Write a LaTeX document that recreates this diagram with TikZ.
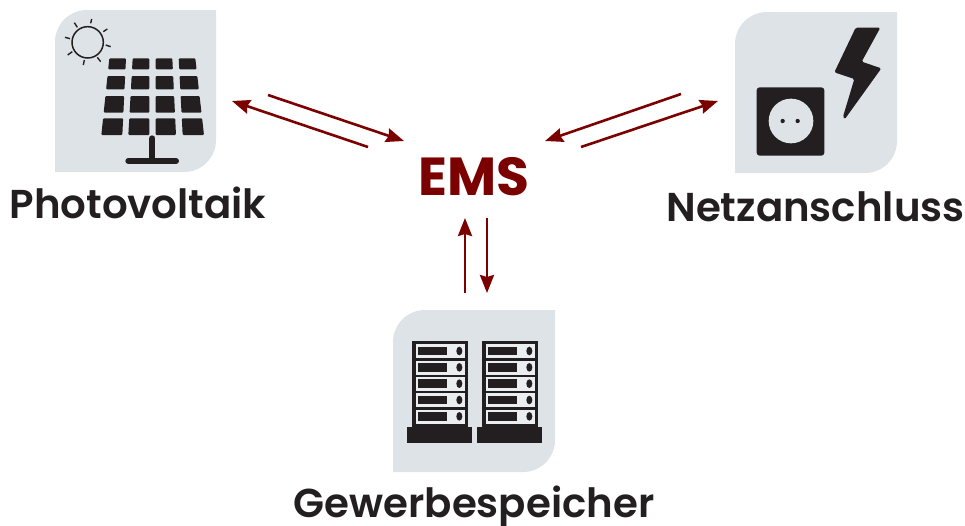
\documentclass[tikz,border=0pt]{standalone}
\usepackage{fontspec}
\usetikzlibrary{arrows.meta}
\newfontfamily\popfont{Poppins}
\newfontfamily\popsemi{Poppins SemiBold}
\definecolor{tile}{HTML}{DDE3E7}
\definecolor{ink}{HTML}{231F20}
\definecolor{emsred}{HTML}{7B0000}
\tikzset{
  tileshape/.style={fill=tile},
  label text/.style={font=\popsemi\fontsize{40.3}{40.3}\selectfont,text=ink,inner sep=0pt,anchor=base},
  flow/.style={draw=emsred,line width=2.6pt,-{Stealth[length=18pt,width=14pt,inset=2pt]}},
  icon/.style={x=0.33333pt,y=-0.33333pt},
  ray/.style={draw=ink,line width=1.4pt},
  pole/.style={draw=ink,line width=6pt,line cap=round}
}
\begin{document}
\begin{tikzpicture}[x=1pt,y=-1pt]
\useasboundingbox (0,0) rectangle (965,525);
% tiles
\fill[tileshape] (55,172) -- (55,42) .. controls (55,24.3) and (69.3,10) .. (87,10) -- (216,10) -- (216,140) .. controls (216,157.7) and (201.7,172) .. (184,172) -- cycle;
\fill[tileshape] (735,173) -- (735,44) .. controls (735,26.3) and (749.3,12) .. (767,12) -- (897,12) -- (897,141) .. controls (897,158.7) and (882.7,173) .. (865,173) -- cycle;
\fill[tileshape] (393,472) -- (393,342) .. controls (393,324.3) and (407.3,310) .. (425,310) -- (555,310) -- (555,440) .. controls (555,457.7) and (540.7,472) .. (523,472) -- cycle;
% solar icon
\begin{scope}[icon,shift={(40pt,0pt)}]
  \draw[ink,line width=1.5pt] (143,127) circle[radius=47];
  \draw[ray] (155,57)--(152,70) (103,68)--(112,82) (75,112)--(90,116) (83,165)--(97,155)
             (130,195)--(133,180) (182,185)--(172,172) (212,140)--(197,135) (202,87)--(190,95);
  \foreach \yt/\yb in {175/208,228/268,288/338,355/405}{
    \foreach \at/\bt/\ab/\bb in {208/258/184/247,278/328/265/328,347/397/347/408,416/466/428/492}{
      \pgfmathsetmacro{\tt}{(\yt-175)/230}
      \pgfmathsetmacro{\tb}{(\yb-175)/230}
      \fill[ink,rounded corners=1pt]
        ({\at+(\ab-\at)*\tt},\yt) -- ({\bt+(\bb-\bt)*\tt},\yt) --
        ({\bt+(\bb-\bt)*\tb},\yb) -- ({\at+(\ab-\at)*\tb},\yb) -- cycle;
    }
  }
  \draw[pole] (337,415)--(337,483);
  \draw[pole] (265,483)--(408,483);
\end{scope}
% grid icon
\begin{scope}[icon,shift={(725pt,0pt)}]
  \fill[ink,rounded corners=3pt] (95,262) rectangle (298,467);
  \fill[tile] (198,363) circle[radius=67];
  \fill[ink] (173,363) circle[radius=6.5] (218,363) circle[radius=6.5];
  \fill[ink,rounded corners=1.5pt] (392,83)--(466,83)--(410,185)--(469,205)--(359,358)--(354,350)--(388,237)--(328,217)--cycle;
\end{scope}
% storage icon
\begin{scope}[icon,shift={(385pt,-300pt)}]
  \foreach \dx in {0,210}{
    \fill[ink] (82+\dx,122) rectangle (248+\dx,380);
    \foreach \ry in {133,182,231,280,329}{
      \fill[tile!60!white] (92+\dx,\ry) rectangle (240+\dx,\ry+42);
      \fill[ink] (98+\dx,\ry+7) rectangle (185+\dx,\ry+33);
      \fill[ink] (223+\dx,\ry+20) ellipse[x radius=9,y radius=13];
    }
  }
  \fill[ink] (65,382) rectangle (260,428);
  \fill[ink] (275,382) rectangle (470,428);
\end{scope}
% labels
\node[label text] (pv) at (138,218) {Photovoltaik};
\node[label text] (net) at (815.5,221) {Netzanschluss};
\node[label text] (store) at (474,517.5) {Gewerbespeicher};
\node[font=\popfont\bfseries\fontsize{53.5}{53.5}\selectfont,text=emsred,inner sep=0pt,anchor=base] (ems) at (474,195) {EMS};
% connector ends
\coordinate (a1) at (268,95);  \coordinate (a2) at (404,141);
\coordinate (b1) at (368,147); \coordinate (b2) at (232,101);
\coordinate (c1) at (681,94);  \coordinate (c2) at (545,141);
\coordinate (d1) at (581,147); \coordinate (d2) at (718,101);
\coordinate (e1) at (465,293); \coordinate (e2) at (465,218);
\coordinate (f1) at (487,218); \coordinate (f2) at (487,293);
\draw[flow] (a1)--(a2);
\draw[flow] (b1)--(b2);
\draw[flow] (c1)--(c2);
\draw[flow] (d1)--(d2);
\draw[flow] (e1)--(e2);
\draw[flow] (f1)--(f2);
\end{tikzpicture}
\end{document}
